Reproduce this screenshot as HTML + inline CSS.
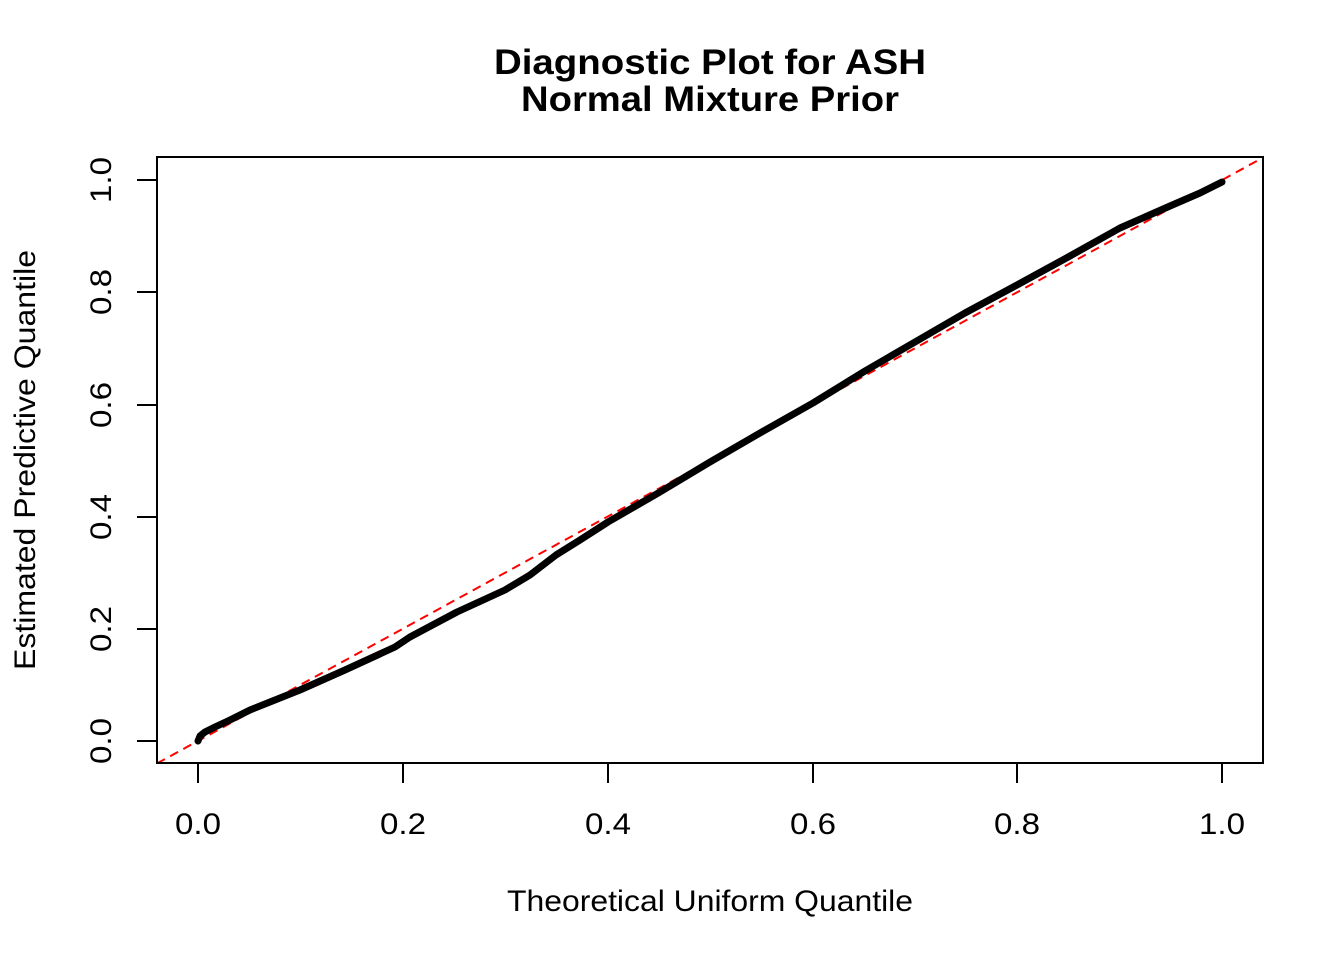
<!DOCTYPE html>
<html><head><style>body{margin:0;background:#fff}svg{display:block}</style></head><body>
<svg width="1344" height="960" xmlns="http://www.w3.org/2000/svg" font-family="Liberation Sans, Arial, sans-serif">
<rect width="1344" height="960" fill="#fff"/>
<text x="710" y="74" font-size="35" font-weight="bold" text-anchor="middle" textLength="432" lengthAdjust="spacingAndGlyphs">Diagnostic Plot for ASH</text>
<text x="710" y="111" font-size="35" font-weight="bold" text-anchor="middle" textLength="378" lengthAdjust="spacingAndGlyphs">Normal Mixture Prior</text>
<defs><clipPath id="c"><rect x="157" y="157" width="1106" height="606"/></clipPath></defs>
<line x1="157" y1="763.4" x2="1263" y2="157.6" stroke="#f00" stroke-width="2" stroke-dasharray="9,6" clip-path="url(#c)"/>
<polyline fill="none" stroke="#000" stroke-width="7" stroke-linejoin="round" stroke-linecap="round" points="198,741 200,736 205,732 215,727 230,720 250,710 275,700 300,690 345,670 395,647 410,637 457,612 505,590 530,575 556,555 580,540 608,522 660,492 710,462 760,433 813,403 865,371 915,342 965,313 1017,285 1070,256 1120,228 1170,206 1200,193 1222,182"/>
<rect x="157" y="157" width="1106" height="606" fill="none" stroke="#000" stroke-width="2"/>
<g stroke="#000" stroke-width="2">
<line x1="198" y1="763" x2="198" y2="783"/><line x1="403" y1="763" x2="403" y2="783"/><line x1="608" y1="763" x2="608" y2="783"/><line x1="813" y1="763" x2="813" y2="783"/><line x1="1017" y1="763" x2="1017" y2="783"/><line x1="1222" y1="763" x2="1222" y2="783"/>
<line x1="157" y1="741" x2="137" y2="741"/><line x1="157" y1="629" x2="137" y2="629"/><line x1="157" y1="517" x2="137" y2="517"/><line x1="157" y1="405" x2="137" y2="405"/><line x1="157" y1="292" x2="137" y2="292"/><line x1="157" y1="180" x2="137" y2="180"/>
</g>
<g font-size="30" text-anchor="middle">
<text x="198" y="834" textLength="46" lengthAdjust="spacingAndGlyphs">0.0</text><text x="403" y="834" textLength="46" lengthAdjust="spacingAndGlyphs">0.2</text><text x="608" y="834" textLength="46" lengthAdjust="spacingAndGlyphs">0.4</text><text x="813" y="834" textLength="46" lengthAdjust="spacingAndGlyphs">0.6</text><text x="1017" y="834" textLength="46" lengthAdjust="spacingAndGlyphs">0.8</text><text x="1222" y="834" textLength="46" lengthAdjust="spacingAndGlyphs">1.0</text>
<text transform="translate(111,741) rotate(-90)" textLength="46" lengthAdjust="spacingAndGlyphs">0.0</text><text transform="translate(111,629) rotate(-90)" textLength="46" lengthAdjust="spacingAndGlyphs">0.2</text><text transform="translate(111,517) rotate(-90)" textLength="46" lengthAdjust="spacingAndGlyphs">0.4</text><text transform="translate(111,405) rotate(-90)" textLength="46" lengthAdjust="spacingAndGlyphs">0.6</text><text transform="translate(111,292) rotate(-90)" textLength="46" lengthAdjust="spacingAndGlyphs">0.8</text><text transform="translate(111,180) rotate(-90)" textLength="46" lengthAdjust="spacingAndGlyphs">1.0</text>
<text x="710" y="911" textLength="406" lengthAdjust="spacingAndGlyphs">Theoretical Uniform Quantile</text>
<text transform="translate(35,460) rotate(-90)" textLength="420" lengthAdjust="spacingAndGlyphs">Estimated Predictive Quantile</text>
</g>
</svg>
</body></html>
